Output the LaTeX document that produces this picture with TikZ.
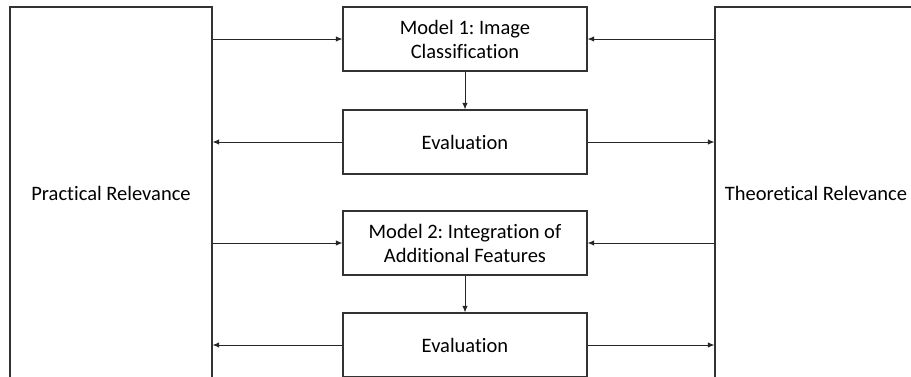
\documentclass[tikz,border=0pt]{standalone}
\usepackage{fontspec}
\setmainfont{Carlito}[Ligatures={NoCommon}]
\usetikzlibrary{arrows.meta}
\frenchspacing
\begin{document}
\begin{tikzpicture}[x=1pt,y=-1pt,
 box/.style={draw=black!80, line width=1.2pt, fill=white, align=center, inner sep=0pt, font=\fontsize{20.5}{24}\selectfont\frenchspacing},
 mid/.style={box, minimum width=244pt, minimum height=64pt},
 side/.style={box, minimum width=202pt, minimum height=378pt},
 arr/.style={draw=black!85, line width=0.9pt, -{Latex[length=6.5pt,width=5.5pt]}}]
\useasboundingbox (0,0) rectangle (911,376);
\clip (0,0) rectangle (911,376);
\node[side] (L) at (111,196) {\raisebox{6pt}{Practical Relevance}};
\node[side] (R) at (816,196) {\raisebox{6pt}{Theoretical Relevance}};
\node[mid] (m1) at (465,39) {Model 1: Image\\Classification};
\node[mid] (e1) at (465,142) {Evaluation};
\node[mid] (m2) at (465,243) {Model 2: Integration of\\Additional Features};
\node[mid] (e2) at (465,345) {Evaluation};
\draw[arr] (L.east |- m1.west) -- (m1.west);
\draw[arr] (R.west |- m1.east) -- (m1.east);
\draw[arr] (m1.south) -- (e1.north);
\draw[arr] (e1.west) -- (L.east |- e1.west);
\draw[arr] (e1.east) -- (R.west |- e1.east);
\draw[arr] (L.east |- m2.west) -- (m2.west);
\draw[arr] (R.west |- m2.east) -- (m2.east);
\draw[arr] (m2.south) -- (e2.north);
\draw[arr] (e2.west) -- (L.east |- e2.west);
\draw[arr] (e2.east) -- (R.west |- e2.east);
\end{tikzpicture}
\end{document}
